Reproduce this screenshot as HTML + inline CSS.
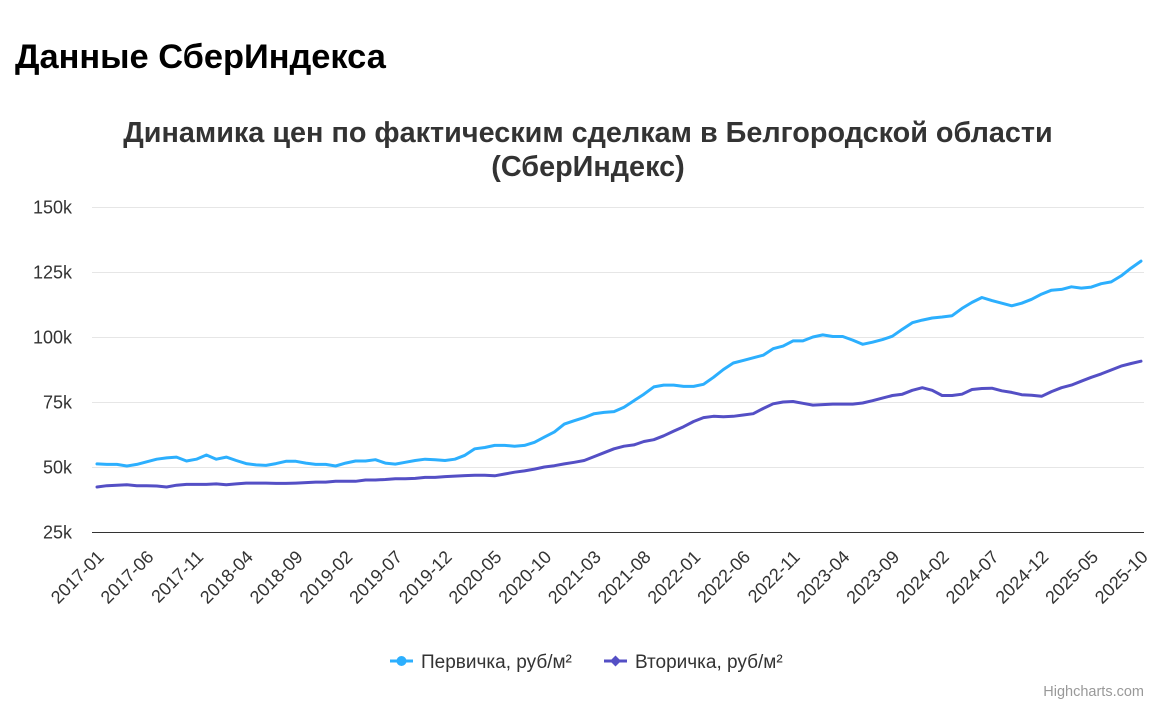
<!DOCTYPE html>
<html><head><meta charset="utf-8">
<style>
body{margin:0;background:#fff;width:1176px;height:711px;overflow:hidden;font-family:"Liberation Sans",Arial,sans-serif;}
#page-title{position:absolute;left:15px;top:38px;margin:0;font-size:34.4px;font-weight:bold;color:#000;}
svg{position:absolute;left:0;top:0;}
</style></head>
<body>
<svg id="chart" width="1176" height="711" font-family="Liberation Sans, Arial, sans-serif">
  <text x="588" y="142" text-anchor="middle" font-size="28.8" font-weight="bold" fill="#333">Динамика цен по фактическим сделкам в Белгородской области</text>
  <text x="588" y="176" text-anchor="middle" font-size="28.8" font-weight="bold" fill="#333">(СберИндекс)</text>
  <g id="grid"></g>
  <g id="yl"></g>
  <g id="xl"></g>
  <g id="series"></g>
  <g>
    <g>
      <line x1="390" y1="661" x2="413" y2="661" stroke="#2caffe" stroke-width="3"/>
      <circle cx="401.5" cy="661" r="5" fill="#2caffe"/>
      <text x="421" y="668" font-size="19" fill="#333">Первичка, руб/м²</text>
    </g>
    <g>
      <line x1="604" y1="661" x2="627" y2="661" stroke="#544fc5" stroke-width="3"/>
      <path d="M615.5 655.5 L621 661 L615.5 666.5 L610 661 Z" fill="#544fc5"/>
      <text x="635" y="668" font-size="19" fill="#333">Вторичка, руб/м²</text>
    </g>
  </g>
  <text x="1144" y="696" text-anchor="end" font-size="14.5" fill="#999">Highcharts.com</text>
</svg>
<h1 id="page-title">Данные СберИндекса</h1>
<script>
const yTicks=[25,50,75,100,125,150];
const yTickLabels=["25k","50k","75k","100k","125k","150k"];
const primary=[51.2,51,51,50.4,51,52,53,53.5,53.8,52.3,53,54.6,53,53.8,52.5,51.3,50.8,50.6,51.3,52.2,52.2,51.5,51,51,50.4,51.5,52.3,52.3,52.8,51.5,51.1,51.8,52.5,53,52.8,52.5,53,54.5,57,57.5,58.3,58.3,58,58.3,59.5,61.5,63.5,66.5,67.8,69,70.5,71,71.3,73,75.5,78,80.8,81.5,81.5,81,81,81.8,84.5,87.5,90,91,92,93,95.5,96.5,98.5,98.5,100,100.8,100.2,100.2,98.8,97.2,98,99,100.3,103,105.5,106.5,107.3,107.7,108.2,111,113.3,115.2,114,113,112,113,114.5,116.5,118,118.3,119.3,118.8,119.2,120.5,121.2,123.5,126.5,129.2];
const secondary=[42.3,42.8,43,43.2,42.8,42.8,42.7,42.3,43,43.3,43.3,43.3,43.5,43.2,43.5,43.8,43.8,43.8,43.7,43.7,43.8,44,44.2,44.2,44.5,44.5,44.5,45,45,45.2,45.5,45.5,45.6,46,46,46.3,46.5,46.7,46.8,46.8,46.6,47.3,48,48.5,49.2,50,50.5,51.2,51.8,52.5,54,55.5,57,58,58.5,59.8,60.5,62,63.8,65.5,67.5,69,69.5,69.3,69.5,70,70.5,72.5,74.3,75,75.2,74.5,73.8,74,74.2,74.2,74.2,74.6,75.5,76.5,77.5,78,79.5,80.5,79.5,77.5,77.5,78,79.8,80.2,80.3,79.3,78.7,77.8,77.6,77.2,79,80.5,81.5,83,84.5,85.8,87.3,88.8,89.8,90.7];
const startYear=2017,startMonth=1;
const NS="http://www.w3.org/2000/svg";
const X0=97,X1=1141,Ytop=207,Ybot=532,vMin=25,vMax=150;
const n=primary.length;
function xs(i){return X0+(X1-X0)*i/(n-1);}
function ys(v){return Ybot-(v-vMin)/(vMax-vMin)*(Ybot-Ytop);}
function mk(tag,attrs,parent){const e=document.createElementNS(NS,tag);for(const k in attrs)e.setAttribute(k,attrs[k]);parent.appendChild(e);return e;}
const grid=document.getElementById('grid'),yl=document.getElementById('yl'),xl=document.getElementById('xl'),ser=document.getElementById('series');
yTicks.forEach((t,i)=>{
  const y=Math.round(ys(t))+0.5;
  if(t!==vMin){
    const g=mk('line',{x1:92,x2:1144,y1:y,y2:y,stroke:'#e6e6e6','stroke-width':1},grid);
    
    
  }
  const tx=mk('text',{x:72,y:y+6,'text-anchor':'end','font-size':18,fill:'#333'},yl);
  tx.textContent=yTickLabels[i];
  
  
});
const ax=mk('line',{x1:92,x2:1144,y1:532.5,y2:532.5,stroke:'#333','stroke-width':1},grid);


for(let i=0;i<n;i+=5){
  const m=startMonth-1+i,yr=startYear+Math.floor(m/12),mo=m%12+1;
  const lab=yr+'-'+(mo<10?'0':'')+mo;
  const x=xs(i)+8,y=558;
  const tx=mk('text',{x:x,y:y,'text-anchor':'end','font-size':18,fill:'#333',transform:'rotate(-45 '+x+' '+y+')'},xl);
  tx.textContent=lab;
  
  
}
function line(data,color,name){
  const d=data.map((v,i)=>(i?'L':'M')+xs(i).toFixed(1)+' '+ys(v).toFixed(1)).join(' ');
  const p=mk('path',{d:d,fill:'none',stroke:color,'stroke-width':3,'stroke-linejoin':'round','stroke-linecap':'round'},ser);
  
  
}
line(secondary,'#544fc5','secondary-line');
line(primary,'#2caffe','primary-line');
</script>
</body></html>
